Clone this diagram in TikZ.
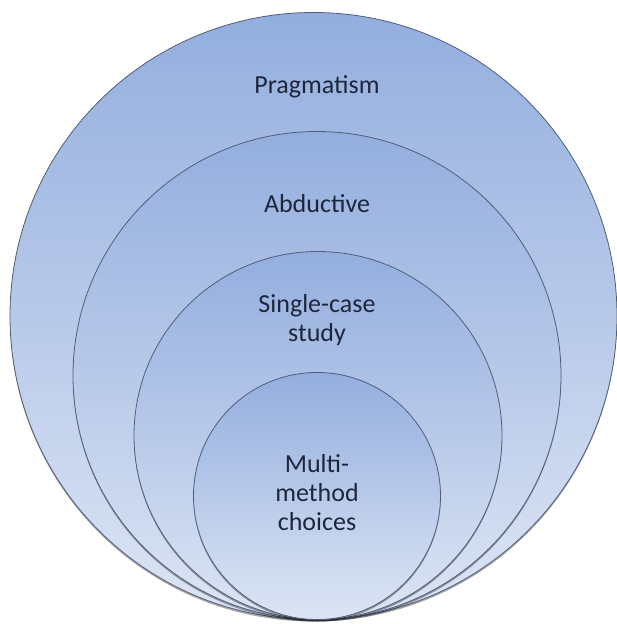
\documentclass[tikz,border=0pt]{standalone}
\usepackage{fontspec}
\setmainfont{Carlito}
\usetikzlibrary{shadows}
\definecolor{shadetop}{RGB}{147,174,222}
\definecolor{shadebot}{RGB}{221,229,244}
\definecolor{ringline}{RGB}{80,94,122}
\definecolor{labeltext}{RGB}{30,38,60}
\tikzset{
  ring/.style={circle, inner sep=0pt, outer sep=0pt, minimum size=#1,
    top color=shadetop, bottom color=shadebot,
    draw=ringline, line width=0.8pt,
    drop shadow={shadow xshift=0pt, shadow yshift=-2pt, opacity=0.35, fill=black}},
  ringlabel/.style={text=labeltext, align=center,
    font=\fontsize{26}{29}\selectfont, inner sep=0pt}
}
\begin{document}
\begin{tikzpicture}[x=1pt, y=-1pt]
  \useasboundingbox (0,0) rectangle (617,624);
  % nested circles, all touching at the bottom
  \node[ring=607pt] (pragmatism) at (313.5,316) {};
  \node[ring=488pt] (abductive)  at (317,375.5) {};
  \node[ring=368pt] (casestudy)  at (318,435.5) {};
  \node[ring=247pt] (multimethod) at (317,496) {};
  % labels
  \node[ringlabel] (lpragmatism) at (317,87) {Pragmatism};
  \node[ringlabel] (labductive) at (317,204) {Abductive};
  \node[ringlabel] (lcasestudy) at (317,320) {Single-case\\study};
  \node[ringlabel] (lmultimethod) at (317,493) {Multi-\\method\\choices};
\end{tikzpicture}
\end{document}
